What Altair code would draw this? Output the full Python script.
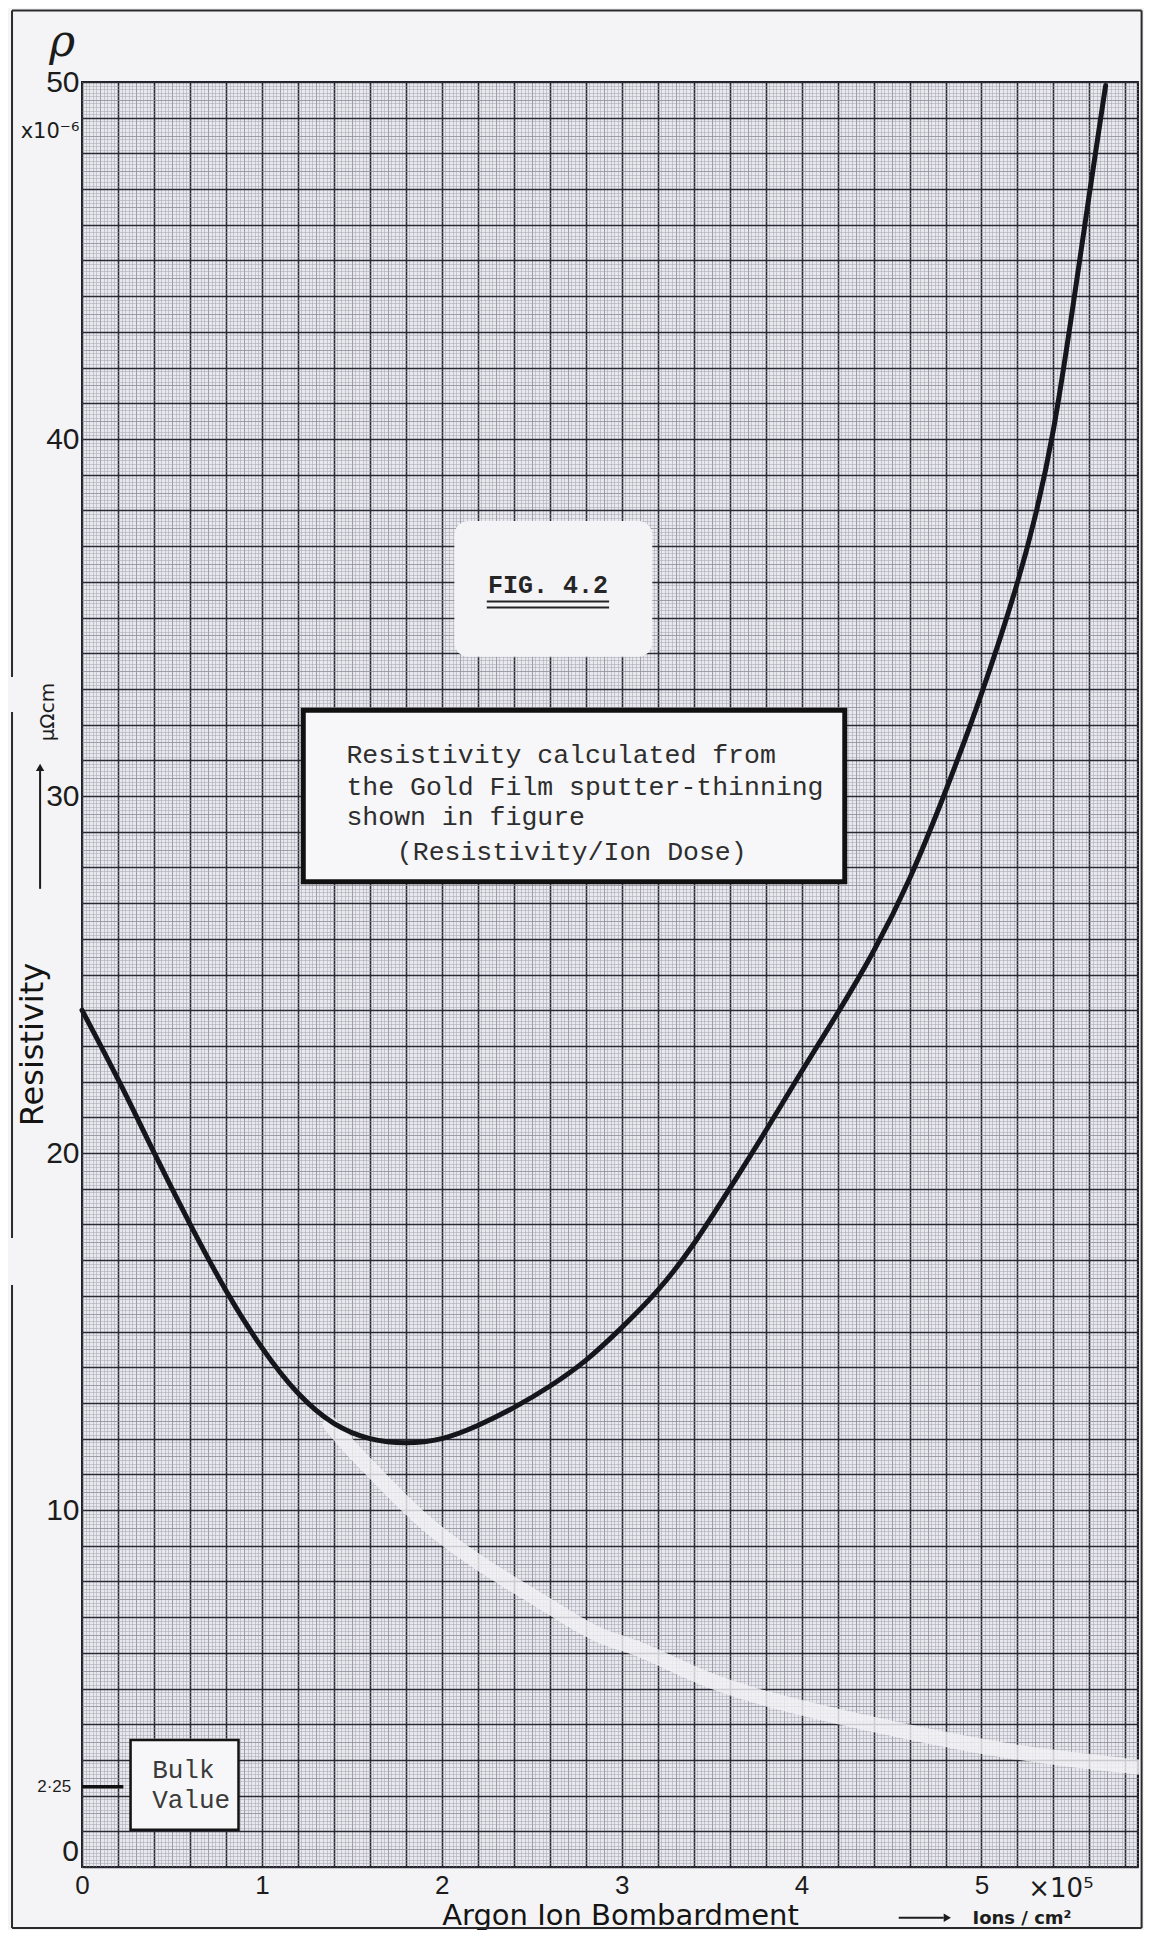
import altair as alt
import pandas as pd

# ---- data ----
dose = [0.0, 0.2, 0.4, 0.6, 0.8, 1.0, 1.2, 1.4, 1.6, 1.8, 2.0, 2.2, 2.4, 2.6, 2.8,
        3.0, 3.2, 3.4, 3.6, 3.8, 4.0, 4.2, 4.4, 4.6, 4.8, 5.0, 5.2, 5.3, 5.4, 5.5,
        5.6, 5.69]
resistivity = [24.0, 22.1, 20.0, 18.0, 16.1, 14.5, 13.2, 12.35, 11.95, 11.85, 11.95, 12.35,
               12.85, 13.45, 14.15, 15.1, 16.1, 17.4, 19.0, 20.6, 22.3, 23.9, 25.6, 27.6,
               30.1, 32.8, 35.9, 37.8, 40.1, 43.4, 46.9, 49.9]

# erased (white) trace still visible on the paper
trace_dose = [1.38, 1.46, 1.73, 1.91, 2.15, 2.4, 2.6, 2.88, 3.08, 3.47, 3.87, 4.47,
              5.06, 5.5, 5.87]
trace_res = [12.4, 11.9, 10.5, 9.6, 8.7, 7.9, 7.3, 6.4, 6.2, 5.2, 4.6, 3.9, 3.3,
             3.0, 2.8]

x_tick_labels = [0, 1, 2, 3, 4, 5]
y_tick_labels = [0, 10, 20, 30, 40, 50]
bulk_value = 2.25

box_lines = ["Resistivity calculated from", "the Gold Film sputter-thinning",
             "shown in figure", "(Resistivity/Ion Dose)"]
box_line_u = [1.47, 1.47, 1.47, 1.75]
box_line_v = [31.15, 30.25, 29.41, 28.43]

bulk_lines = ["Bulk", "Value"]
bulk_line_u = [0.39, 0.39]
bulk_line_v = [2.72, 1.88]

X_MAX = 5.87
Y_MAX = 50

curve_df = pd.DataFrame({"u": dose, "v": resistivity})
trace_df = pd.DataFrame({"u": trace_dose, "v": trace_res})

xs = alt.Scale(domain=[0, X_MAX], nice=False, zero=False)
ys = alt.Scale(domain=[0, Y_MAX], nice=False, zero=False)

# graph-paper rulings: 1 mm, 5 mm and 1 cm lines
x_fine = [round(i * 0.02, 2) for i in range(0, int(X_MAX / 0.02) + 1)]
y_fine = [round(i * 0.1, 1) for i in range(0, Y_MAX * 10 + 1)]
x_med = [round(i * 0.1, 1) for i in range(0, int(X_MAX / 0.1) + 1)]
y_med = [round(i * 0.5, 1) for i in range(0, Y_MAX * 2 + 1)]
x_heavy = [round(i * 0.2, 1) for i in range(0, int(X_MAX / 0.2) + 1)]
y_heavy = list(range(0, Y_MAX + 1))


def grid_layer(xv, yv, color, width):
    return alt.Chart(curve_df).mark_point(opacity=0).encode(
        x=alt.X("u:Q", scale=xs, axis=alt.Axis(
            values=xv, grid=True, gridColor=color, gridWidth=width, gridOpacity=1,
            labels=False, ticks=False, domain=False, title=None, orient="bottom")),
        y=alt.Y("v:Q", scale=ys, axis=alt.Axis(
            values=yv, grid=True, gridColor=color, gridWidth=width, gridOpacity=1,
            labels=False, ticks=False, domain=False, title=None, orient="left")),
    )


g_fine = grid_layer(x_fine, y_fine, "#a2a2ae", 0.5)
g_med = grid_layer(x_med, y_med, "#8c8c9a", 0.7)
g_heavy = grid_layer(x_heavy, y_heavy, "#2a2a34", 1.6)

labels_layer = alt.Chart(curve_df).mark_point(opacity=0).encode(
    x=alt.X("u:Q", scale=xs, axis=alt.Axis(
        values=x_tick_labels, grid=False, domain=False, ticks=False, orient="bottom",
        labelFlush=False, labelOverlap=False,
        labelFont="Liberation Sans", labelFontSize=26, labelColor="#1c1c1c", labelPadding=5,
        title="Argon Ion Bombardment", titleFont="DejaVu Sans", titleFontSize=29,
        titleFontWeight="normal", titleColor="#141414",
        titleX=538, titleY=57, titleAlign="center", titleBaseline="alphabetic")),
    y=alt.Y("v:Q", scale=ys, axis=alt.Axis(
        values=y_tick_labels[1:], grid=False, domain=False, ticks=False, orient="left",
        labelFlush=False, labelOverlap=False, labelBaseline="middle",
        labelFont="Liberation Sans", labelFontSize=30, labelColor="#1c1c1c", labelPadding=3,
        title="Resistivity", titleFont="DejaVu Sans", titleFontSize=32, titleFontWeight="normal",
        titleColor="#141414", titleAngle=270, titleX=-50, titleY=962,
        titleAlign="center", titleBaseline="middle")),
)


def X(field="u"):
    return alt.X(f"{field}:Q", scale=xs, axis=None)


def Y(field="v"):
    return alt.Y(f"{field}:Q", scale=ys, axis=None)


# the y "0" sits just above the corner, clear of the x "0"
y_zero = alt.Chart(pd.DataFrame({"u": [-0.017], "v": [y_tick_labels[0]], "t": [str(y_tick_labels[0])]})).mark_text(
    align="right", baseline="bottom", font="Liberation Sans", fontSize=30, color="#1c1c1c"
).encode(x=X(), y=Y(), text="t:N")

trace = alt.Chart(trace_df).mark_line(
    color="#f2f2f6", strokeWidth=15, opacity=0.8, interpolate="basis", strokeCap="round"
).encode(x=X(), y=Y())

curve = alt.Chart(curve_df).mark_line(
    color="#15151c", strokeWidth=5, interpolate="basis", strokeCap="round"
).encode(x=X(), y=Y())

# bulk value marker
bulk_rule = alt.Chart(pd.DataFrame({"u": [0.0], "u2": [0.23], "v": [bulk_value]})).mark_rule(
    color="#111", strokeWidth=3.5
).encode(x=X(), x2="u2:Q", y=Y())
bulk_lbl = alt.Chart(pd.DataFrame({"u": [-0.06], "v": [bulk_value], "t": ["2·25"]})).mark_text(
    align="right", baseline="middle", font="Liberation Sans", fontSize=17, color="#1c1c1c"
).encode(x=X(), y=Y(), text="t:N")
bulk_box = alt.Chart(pd.DataFrame({"u": [0.27], "u2": [0.87], "v": [1.04], "v2": [3.56]})).mark_rect(
    fill="#f7f7f9", stroke="#141414", strokeWidth=2.5
).encode(x=X(), x2="u2:Q", y=Y(), y2="v2:Q")
bulk_txt = alt.Chart(pd.DataFrame({"u": bulk_line_u, "v": bulk_line_v, "t": bulk_lines})).mark_text(
    align="left", baseline="middle", font="Liberation Mono", fontSize=26, color="#3a3a3a"
).encode(x=X(), y=Y(), text="t:N")

# FIG. 4.2 label
fig_box = alt.Chart(pd.DataFrame({"u": [2.07], "u2": [3.17], "v": [33.9], "v2": [37.7]})).mark_rect(
    fill="#f4f4f7", cornerRadius=14
).encode(x=X(), x2="u2:Q", y=Y(), y2="v2:Q")
fig_txt = alt.Chart(pd.DataFrame({"u": [2.59], "v": [35.9], "t": ["FIG. 4.2"]})).mark_text(
    align="center", baseline="middle", font="Liberation Mono", fontSize=25, fontWeight="bold",
    color="#262626"
).encode(x=X(), y=Y(), text="t:N")
fig_ul = alt.Chart(pd.DataFrame({"u": [2.25, 2.25], "u2": [2.93, 2.93], "v": [35.45, 35.28]})).mark_rule(
    color="#222", strokeWidth=2
).encode(x=X(), x2="u2:Q", y=Y())

# main caption box
cap_box = alt.Chart(pd.DataFrame({"u": [1.23], "u2": [4.24], "v": [27.6], "v2": [32.4]})).mark_rect(
    fill="#f7f7f9", stroke="#111", strokeWidth=5
).encode(x=X(), x2="u2:Q", y=Y(), y2="v2:Q")
cap_txt = alt.Chart(pd.DataFrame({"u": box_line_u, "v": box_line_v, "t": box_lines})).mark_text(
    align="left", baseline="middle", font="Liberation Mono", fontSize=26.5, color="#2e2e2e"
).encode(x=X(), y=Y(), text="t:N")

# y-axis extras: rho, x10^-6, arrow and unit
rho = alt.Chart(pd.DataFrame({"u": [-0.11], "v": [51.1], "t": ["ρ"]})).mark_text(
    align="center", baseline="middle", font="DejaVu Serif", fontSize=44, fontStyle="italic",
    color="#1c1c1c"
).encode(x=X(), y=Y(), text="t:N")
yexp = alt.Chart(pd.DataFrame({"u": [-0.015], "v": [48.6], "t": ["x10⁻⁶"]})).mark_text(
    align="right", baseline="middle", font="DejaVu Sans", fontSize=21, color="#1c1c1c"
).encode(x=X(), y=Y(), text="t:N")
unit_y = alt.Chart(pd.DataFrame({"u": [-0.19], "v": [32.35], "t": ["μΩcm"]})).mark_text(
    align="center", baseline="middle", font="DejaVu Sans", fontSize=20, angle=270, color="#1c1c1c"
).encode(x=X(), y=Y(), text="t:N")
arrow_y = alt.Chart(pd.DataFrame({"u": [-0.233], "v": [27.4], "v2": [30.7]})).mark_rule(
    color="#1c1c1c", strokeWidth=2
).encode(x=X(), y=Y(), y2="v2:Q")
arrow_y_head = alt.Chart(pd.DataFrame({"u": [-0.233], "v": [30.8]})).mark_point(
    shape="triangle-up", filled=True, size=70, color="#1c1c1c", opacity=1
).encode(x=X(), y=Y())

# x-axis extras
xexp = alt.Chart(pd.DataFrame({"u": [5.26], "v": [-0.62], "t": ["×10⁵"]})).mark_text(
    align="left", baseline="middle", font="DejaVu Sans", fontSize=26, color="#1c1c1c"
).encode(x=X(), y=Y(), text="t:N")
arrow_x = alt.Chart(pd.DataFrame({"u": [4.54], "u2": [4.79], "v": [-1.42]})).mark_rule(
    color="#1c1c1c", strokeWidth=2
).encode(x=X(), x2="u2:Q", y=Y())
arrow_x_head = alt.Chart(pd.DataFrame({"u": [4.81], "v": [-1.42]})).mark_point(
    shape="triangle-right", filled=True, size=70, color="#1c1c1c", opacity=1
).encode(x=X(), y=Y())
unit_x = alt.Chart(pd.DataFrame({"u": [4.95], "v": [-1.47], "t": ["Ions / cm²"]})).mark_text(
    align="left", baseline="middle", font="DejaVu Sans", fontSize=18, fontWeight="bold",
    color="#1c1c1c"
).encode(x=X(), y=Y(), text="t:N")

# page frame (with the small gaps on the left edge)
frame = alt.Chart(pd.DataFrame({
    "u": [-0.389, -0.389, -0.389, -0.389, 5.89],
    "u2": [5.89, -0.389, -0.389, -0.389, 5.89],
    "v": [52.0, 52.0, 32.35, 16.3, 52.0],
    "v2": [52.0, 33.33, 17.62, -1.71, -1.71],
})).mark_rule(color="#2a2a2a", strokeWidth=2).encode(x=X(), x2="u2:Q", y=Y(), y2="v2:Q")
frame_bottom = alt.Chart(pd.DataFrame({"u": [-0.389], "u2": [5.89], "v": [-1.71]})).mark_rule(
    color="#2a2a2a", strokeWidth=2
).encode(x=X(), x2="u2:Q", y=Y())

chart = alt.layer(
    g_fine, g_med, g_heavy, labels_layer, y_zero,
    trace, curve, bulk_rule, bulk_box, bulk_txt, bulk_lbl, fig_box, fig_txt, fig_ul,
    cap_box, cap_txt, rho, yexp, unit_y, arrow_y, arrow_y_head, xexp, arrow_x, arrow_x_head,
    unit_x, frame, frame_bottom,
).resolve_axis(
    x="independent", y="independent"
).properties(
    width=1056, height=1785,
    padding={"left": 74, "top": 74, "right": 6, "bottom": 63},
    autosize=alt.AutoSizeParams(type="none"),
    background="#f4f4f6",
).configure_view(
    fill="#e8e8ee", stroke="#1e1e26", strokeWidth=2
)

chart.save("out.html", embed_options={"renderer": "svg", "actions": False})
